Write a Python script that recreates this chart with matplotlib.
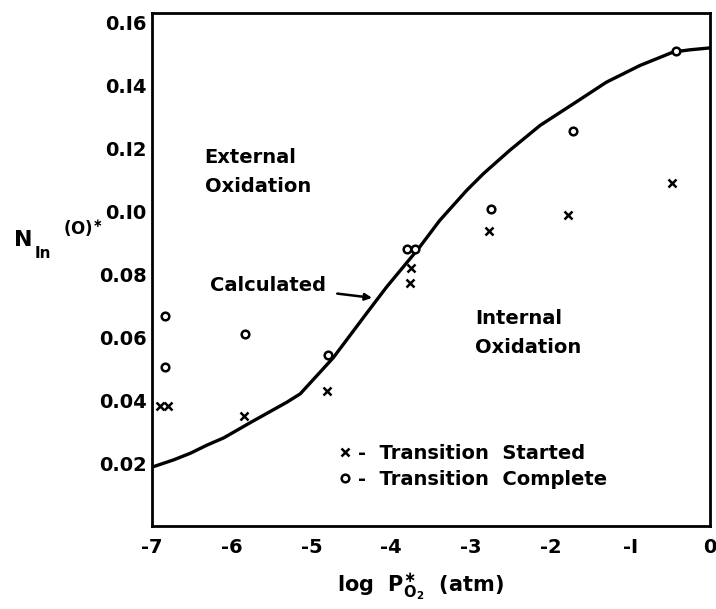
import matplotlib
matplotlib.use("Agg")
import matplotlib.pyplot as plt

plt.rcParams['font.family'] = ['DejaVu Sans']
plt.rcParams['mathtext.default'] = 'bf'

# ---- data ----
curve_x = [-7.00, -6.73, -6.52, -6.31, -6.10, -5.77, -5.31, -5.14, -4.725, -4.31, -4.055,
           -3.76, -3.64, -3.39, -3.05, -2.84, -2.51, -2.13, -1.71, -1.30, -0.88, -0.46, -0.25, 0.0]
curve_y = [0.0187, 0.0210, 0.0231, 0.0257, 0.0280, 0.0328, 0.0393, 0.0420, 0.0535, 0.0675, 0.0760,
           0.0850, 0.0887, 0.0971, 0.1067, 0.1120, 0.1194, 0.1273, 0.1342, 0.1410, 0.1463, 0.1506, 0.1513, 0.1519]

started_x = [-6.90, -6.80, -5.85, -4.80, -3.76, -3.75, -2.77, -1.78, -0.48]
started_y = [0.0381, 0.0381, 0.0349, 0.0429, 0.0771, 0.0819, 0.0937, 0.0987, 0.1089]

complete_x = [-6.84, -6.84, -5.83, -4.79, -3.80, -3.70, -2.75, -1.72, -0.43]
complete_y = [0.0667, 0.0505, 0.0610, 0.0543, 0.0879, 0.0879, 0.1006, 0.1254, 0.1508]

x_ticks = [-7, -6, -5, -4, -3, -2, -1, 0]
x_tick_labels = ['-7', '-6', '-5', '-4', '-3', '-2', '-I', '0']
y_ticks = [0.02, 0.04, 0.06, 0.08, 0.10, 0.12, 0.14, 0.16]
y_tick_labels = ['0.02', '0.04', '0.06', '0.08', '0.I0', '0.I2', '0.I4', '0.I6']

fig = plt.figure(figsize=(7.16, 6.09), dpi=100)
ax = fig.add_axes([0.2123, 0.1363, 0.7793, 0.8424])

ax.plot(curve_x, curve_y, color='black', lw=2.4, solid_capstyle='round', solid_joinstyle='round')
ax.plot(started_x, started_y, linestyle='none', marker='x', color='black', ms=6, mew=1.8,
        label='-  Transition  Started')
ax.plot(complete_x, complete_y, linestyle='none', marker='o', mfc='white', mec='black', ms=5.5, mew=1.8,
        label='-  Transition  Complete')

ax.set_xlim(-7, 0)
ax.set_ylim(0, 0.163)
ax.set_xticks(x_ticks)
ax.set_xticklabels(x_tick_labels)
ax.set_yticks(y_ticks)
ax.set_yticklabels(y_tick_labels)
ax.tick_params(axis='both', length=0, labelsize=14)
ax.tick_params(axis='y', pad=4)
ax.tick_params(axis='x', pad=9)
for lab in ax.get_xticklabels() + ax.get_yticklabels():
    lab.set_fontweight('bold')
for s in ax.spines.values():
    s.set_linewidth(2.0)

tk = dict(fontsize=14, fontweight='bold', color='black')
ax.text(-6.34, 0.117, 'External', ha='left', va='center', **tk)
ax.text(-6.34, 0.108, 'Oxidation', ha='left', va='center', **tk)
ax.text(-2.95, 0.066, 'Internal', ha='left', va='center', **tk)
ax.text(-2.95, 0.0568, 'Oxidation', ha='left', va='center', **tk)
ax.annotate('Calculated', xy=(-4.24, 0.0725), xytext=(-6.27, 0.0765), ha='left', va='center',
            arrowprops=dict(arrowstyle='-|>', color='black', lw=1.8, shrinkA=6, shrinkB=0,
                            mutation_scale=10), **tk)

leg = ax.legend(loc='lower left', bbox_to_anchor=(0.30, 0.038), frameon=False,
                handlelength=0.8, handletextpad=0.3, labelspacing=0.35,
                prop=dict(size=14, weight='bold'))

# x label
fig.text(420/716, 1 - 587/609, r'log  P$_{\mathregular{O_2}}^{\ast}$  (atm)', ha='center', va='center',
         fontsize=15, fontweight='bold')
# y label
fig.text(23/716, 1 - 240/609, 'N', ha='center', va='center', fontsize=16, fontweight='bold')
fig.text(43/716, 1 - 253/609, 'In', ha='center', va='center', fontsize=11, fontweight='bold')
fig.text(83/716, 1 - 229/609, r'(O)$^{\ast}$', ha='center', va='center', fontsize=12, fontweight='bold')

fig.savefig('out.png', dpi=100)
